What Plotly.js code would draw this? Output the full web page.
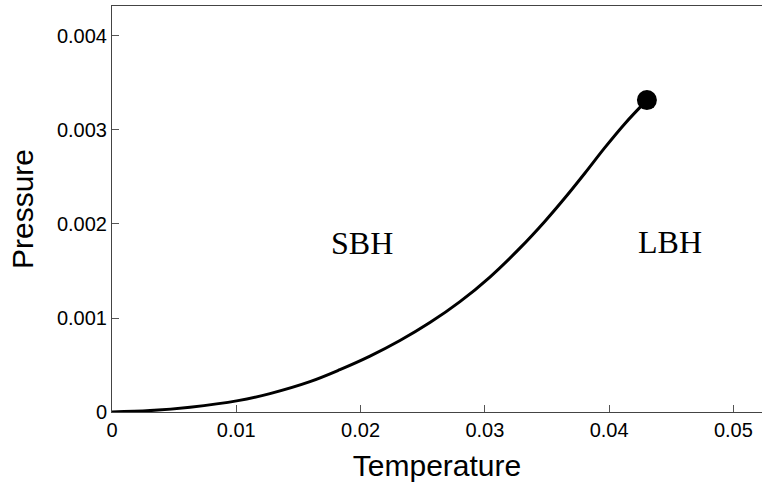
<!DOCTYPE html>
<html>
<head>
<meta charset="utf-8">
<script src="https://cdn.plot.ly/plotly-3.0.1.min.js"></script>
<style>html,body{margin:0;padding:0;background:#fff;}#chart{width:762px;height:491px;}</style>
</head>
<body>
<div id="chart"></div>
<script>
// Coexistence curve (Temperature, Pressure)
var temperature = [0, 0.00306, 0.00628, 0.01014, 0.01271, 0.01593, 0.01834, 0.02076, 0.02317, 0.02558, 0.02800, 0.03041, 0.03282, 0.03484, 0.03645, 0.03806, 0.03967, 0.04128, 0.04304];
var pressure    = [0, 0.000015, 0.000051, 0.000121, 0.000196, 0.000323, 0.000450, 0.000594, 0.000760, 0.000951, 0.001174, 0.001436, 0.001743, 0.002030, 0.002279, 0.002543, 0.002815, 0.003070, 0.003318];
var criticalT = [0.04304];
var criticalP = [0.003318];
var xTicks = [0, 0.01, 0.02, 0.03, 0.04, 0.05];
var xTickText = ["0", "0.01", "0.02", "0.03", "0.04", "0.05"];
var yTicks = [0, 0.001, 0.002, 0.003, 0.004];
var yTickText = ["0", "0.001", "0.002", "0.003", "0.004"];
var phaseLabels = ["SBH", "LBH"];
var phaseT = [0.0201, 0.0449];
var phaseP = [0.00180, 0.00181];

var traces = [
  {x: temperature, y: pressure, mode: 'lines', type: 'scatter',
   line: {color: '#000', width: 3, shape: 'spline', smoothing: 1},
   hoverinfo: 'skip', showlegend: false},
  {x: criticalT, y: criticalP, mode: 'markers', type: 'scatter',
   marker: {color: '#000', size: 20}, showlegend: false}
];

var annotations = phaseLabels.map(function(t, i){
  return {x: phaseT[i], y: phaseP[i], xref: 'x', yref: 'y', text: t, showarrow: false,
          font: {family: 'Liberation Serif, Times New Roman, serif', size: 32, color: '#000'}};
});

var axisFont = {family: 'Liberation Sans, Arial, sans-serif', size: 20, color: '#000'};
var layout = {
  width: 762, height: 491,
  margin: {l: 112, r: 0, t: 6, b: 79},
  paper_bgcolor: '#fff', plot_bgcolor: '#fff',
  xaxis: {range: [0, 0.0523], tickvals: xTicks, ticktext: xTickText,
          ticks: 'inside', ticklen: 7, tickwidth: 1, tickcolor: '#555',
          showline: true, linecolor: '#444', linewidth: 1, mirror: true,
          showgrid: false, zeroline: false, tickfont: axisFont,
          title: {text: 'Temperature', font: {family: 'Liberation Sans, Arial, sans-serif', size: 30, color: '#000'}, standoff: 14}},
  yaxis: {range: [0, 0.004319], tickvals: yTicks, ticktext: yTickText,
          ticks: 'inside', ticklen: 7, tickwidth: 1, tickcolor: '#555',
          showline: true, linecolor: '#444', linewidth: 1,
          showgrid: false, zeroline: false, tickfont: axisFont,
          title: {text: 'Pressure', font: {family: 'Liberation Sans, Arial, sans-serif', size: 30, color: '#000'}, standoff: 14}},
  annotations: annotations
};

Plotly.newPlot('chart', traces, layout, {staticPlot: true});
</script>
</body>
</html>
